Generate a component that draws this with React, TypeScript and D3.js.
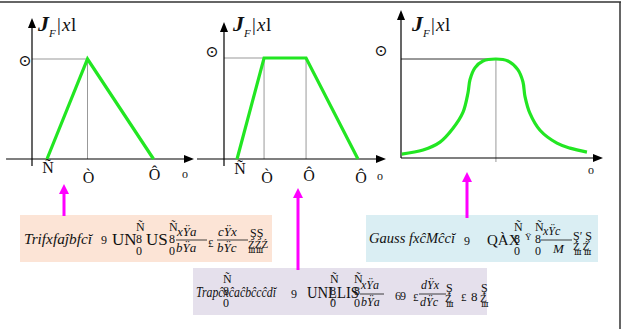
import React from "react";
import * as d3 from "d3";

// ---- data ----
const triParams = [1, 3.7, 8.1]; // a, b, c
const triLabels = ["Ñ", "Ò", "Ô"];
const trapParams = [0.87, 2.67, 5.47, 8.93]; // a, b, c, d
const trapLabels = ["Ñ", "Ò", "Ô", "Ô"];
const gaussX = [0.05, 1.47, 2.6, 3.47, 4.13, 4.47, 4.6, 4.93, 5.47, 6.33, 7.13, 7.8, 8.13, 8.27, 8.6, 9.27, 10.4, 11.27, 12.4];
const gaussMu = [0.04, 0.08, 0.16, 0.3, 0.46, 0.66, 0.79, 0.91, 0.98, 1.0, 0.98, 0.89, 0.77, 0.62, 0.45, 0.28, 0.15, 0.1, 0.06];
const gaussCenter = 6.33;

const GREEN = "#22e622";
const MAGENTA = "#ff00ff";
const FONT = "'Liberation Serif', 'DejaVu Serif', serif";

type Panel = {
  x: d3.ScaleLinear<number, number>;
  y: d3.ScaleLinear<number, number>;
  xMin: number;
  xMax: number;
  yTop: number;
  yBottomExt: number;
};

function Axes({ p }: { p: Panel }) {
  const x0 = p.x(0);
  const y0 = p.y(0);
  const xe = p.x(p.xMax);
  return (
    <g>
      <line x1={p.x(p.xMin)} y1={y0} x2={xe - 6} y2={y0} stroke="#000" strokeWidth={1.2} />
      <path d={`M${xe},${y0} L${xe - 10},${y0 - 4} L${xe - 10},${y0 + 4} Z`} fill="#000" />
      <line x1={x0} y1={p.yBottomExt} x2={x0} y2={p.yTop + 6} stroke="#000" strokeWidth={1.2} />
      <path d={`M${x0},${p.yTop} L${x0 - 4},${p.yTop + 10} L${x0 + 4},${p.yTop + 10} Z`} fill="#000" />
    </g>
  );
}

function JLabel({ x, y }: { x: number; y: number }) {
  return (
    <g fontFamily={FONT} fill="#111">
      <text x={x} y={y} fontSize={22} fontStyle="italic" fontWeight="bold">J</text>
      <text x={x + 11} y={y + 6} fontSize={11} fontStyle="italic">F</text>
      <text x={x + 19} y={y} fontSize={19}>|</text>
      <text x={x + 24} y={y} fontSize={19} fontStyle="italic">x</text>
      <text x={x + 33} y={y} fontSize={19}>l</text>
    </g>
  );
}

function Stack({ x, y, size = 12 }: { x: number; y: number; size?: number }) {
  return (
    <text x={x} y={y} fontSize={size}>
      <tspan x={x} dy={0}>Ñ</tspan>
      <tspan x={x} dy={size}>8</tspan>
      <tspan x={x} dy={size}>0</tspan>
    </text>
  );
}

export default function App() {
  const p1: Panel = {
    x: d3.scaleLinear().domain([0, 10.8]).range([32, 194]),
    y: d3.scaleLinear().domain([0, 1]).range([159, 59]),
    xMin: -1.73, xMax: 10.8, yTop: 18, yBottomExt: 166,
  };
  const p2: Panel = {
    x: d3.scaleLinear().domain([0, 10.8]).range([224, 386]),
    y: d3.scaleLinear().domain([0, 1]).range([159, 58]),
    xMin: -1.8, xMax: 10.8, yTop: 22, yBottomExt: 166,
  };
  const p3: Panel = {
    x: d3.scaleLinear().domain([0, 13.47]).range([401, 603]),
    y: d3.scaleLinear().domain([0, 1]).range([158, 59]),
    xMin: 0, xMax: 13.47, yTop: 10, yBottomExt: 158,
  };

  const line = d3.line<[number, number]>();
  const triPts: [number, number][] = [
    [p1.x(triParams[0]), p1.y(0)],
    [p1.x(triParams[1]), p1.y(1)],
    [p1.x(triParams[2]), p1.y(0)],
  ];
  const trapPts: [number, number][] = [
    [p2.x(trapParams[0]), p2.y(0)],
    [p2.x(trapParams[1]), p2.y(1)],
    [p2.x(trapParams[2]), p2.y(1)],
    [p2.x(trapParams[3]), p2.y(0)],
  ];
  const gaussLine = d3
    .line<number>()
    .x((_, i) => p3.x(gaussX[i]))
    .y((d) => p3.y(d))
    .curve(d3.curveCatmullRom.alpha(0.5));

  const triLabelY = [167, 177, 174];
  const trapLabelY = [168, 177, 175, 177];

  return (
    <svg width={626} height={329} style={{ position: "absolute", left: 0, top: 0 }}>
      <rect x={0} y={0} width={626} height={329} fill="#fff" />
      <line x1={0} y1={2} x2={621} y2={2} stroke="#333" strokeWidth={1.5} />
      <line x1={620} y1={2} x2={620} y2={329} stroke="#333" strokeWidth={1.5} />

      {/* Panel 1 */}
      <line x1={p1.x(0)} y1={p1.y(1)} x2={p1.x(triParams[1])} y2={p1.y(1)} stroke="#999" strokeWidth={1} />
      <line x1={p1.x(triParams[1])} y1={p1.y(1)} x2={p1.x(triParams[1])} y2={p1.y(0)} stroke="#999" strokeWidth={1} />
      <Axes p={p1} />
      <path d={line(triPts) || ""} fill="none" stroke={GREEN} strokeWidth={3.2} />
      <JLabel x={38} y={31} />
      <text x={25} y={66} fontFamily={FONT} fontSize={16} textAnchor="middle" fill="#111">⊙</text>
      {triParams.map((v, i) => (
        <text key={i} x={p1.x(v) + 1} y={triLabelY[i] + 6} fontFamily={FONT} fontSize={16} textAnchor="middle" fill="#111">{triLabels[i]}</text>
      ))}
      <text x={185} y={178} fontFamily={FONT} fontSize={12} textAnchor="middle" fill="#111">o</text>

      {/* Panel 2 */}
      <line x1={p2.x(0)} y1={p2.y(1)} x2={p2.x(trapParams[1])} y2={p2.y(1)} stroke="#999" strokeWidth={1} />
      {[trapParams[1], trapParams[2]].map((v, i) => (
        <line key={i} x1={p2.x(v)} y1={p2.y(1)} x2={p2.x(v)} y2={p2.y(0)} stroke="#999" strokeWidth={1} />
      ))}
      <Axes p={p2} />
      <path d={line(trapPts) || ""} fill="none" stroke={GREEN} strokeWidth={3.2} />
      <JLabel x={233} y={31} />
      <text x={212} y={57} fontFamily={FONT} fontSize={16} textAnchor="middle" fill="#111">⊙</text>
      {trapParams.map((v, i) => (
        <text key={i} x={p2.x(v) + 3} y={trapLabelY[i] + 6} fontFamily={FONT} fontSize={16} textAnchor="middle" fill="#111">{trapLabels[i]}</text>
      ))}
      <text x={380} y={180} fontFamily={FONT} fontSize={12} textAnchor="middle" fill="#111">o</text>

      {/* Panel 3 */}
      <line x1={p3.x(0)} y1={p3.y(1)} x2={p3.x(gaussCenter)} y2={p3.y(1)} stroke="#333" strokeWidth={1} />
      <line x1={p3.x(gaussCenter)} y1={p3.y(1)} x2={p3.x(gaussCenter)} y2={p3.y(0) + 4} stroke="#999" strokeWidth={1} />
      <Axes p={p3} />
      <path d={gaussLine(gaussMu) || ""} fill="none" stroke={GREEN} strokeWidth={3.2} />
      <JLabel x={412} y={31} />
      <text x={381} y={56} fontFamily={FONT} fontSize={16} textAnchor="middle" fill="#111">⊙</text>
      <text x={591} y={174} fontFamily={FONT} fontSize={12} textAnchor="middle" fill="#111">o</text>

      {/* boxes */}
      <rect x={20} y={215} width={252} height={47} fill="#fce4d6" />
      <rect x={366} y={215} width={232} height={47} fill="#daeef3" />
      <rect x={193} y={268} width={294} height={47} fill="#e5e0ec" />

      {[
        { x: 64, y1: 216, y2: 184 },
        { x: 298, y1: 270, y2: 188 },
        { x: 467, y1: 218, y2: 172 },
      ].map((a, i) => (
        <g key={i}>
          <line x1={a.x} y1={a.y1} x2={a.x} y2={a.y2 + 8} stroke={MAGENTA} strokeWidth={3} />
          <path d={`M${a.x},${a.y2} L${a.x - 5},${a.y2 + 10} L${a.x + 5},${a.y2 + 10} Z`} fill={MAGENTA} />
        </g>
      ))}

      {/* box 1 text */}
      <g fontFamily={FONT} fill="#111">
        <text x={24} y={244} fontSize={15} fontStyle="italic" textLength={68} lengthAdjust="spacingAndGlyphs">Trifxfaĵbfcĭ</text>
        <text x={101} y={244} fontSize={12}>9</text>
        <text x={112} y={245} fontSize={17}>UN</text>
        <Stack x={136} y={231} />
        <text x={146} y={245} fontSize={17}>US</text>
        <Stack x={169} y={231} />
        <text x={177} y={236} fontSize={13} fontStyle="italic">xŸa</text>
        <line x1={176} y1={240} x2={207} y2={240} stroke="#111" strokeWidth={0.8} />
        <text x={176} y={252} fontSize={13} fontStyle="italic">bŸa</text>
        <text x={208} y={247} fontSize={11}>£</text>
        <text x={218} y={236} fontSize={13} fontStyle="italic">cŸx</text>
        <line x1={217} y1={240} x2={248} y2={240} stroke="#111" strokeWidth={0.8} />
        <text x={217} y={252} fontSize={13} fontStyle="italic">bŸc</text>
        <text x={250} y={237} fontSize={12}>ŞŞ</text>
        <text x={248} y={248} fontSize={11}>ŹŹŹ</text>
        <text x={248} y={253} fontSize={8}>ⅢⅢ</text>
      </g>

      {/* box 3 text */}
      <g fontFamily={FONT} fill="#111">
        <text x={369} y={243} fontSize={15} fontStyle="italic" textLength={86} lengthAdjust="spacingAndGlyphs">Gauss fxĉMĉcĭ</text>
        <text x={464} y={245} fontSize={12}>9</text>
        <text x={487} y={245} fontSize={15}>QÀX</text>
        <Stack x={514} y={231} />
        <text x={525} y={240} fontSize={9}>Ÿ</text>
        <Stack x={535} y={231} />
        <text x={543} y={235} fontSize={12} fontStyle="italic">xŸc</text>
        <line x1={541} y1={240} x2={572} y2={240} stroke="#111" strokeWidth={0.8} />
        <text x={553} y={253} fontSize={13} fontStyle="italic">M</text>
        <text x={573} y={240} fontSize={12}>Ş′ Ş</text>
        <text x={573} y={250} fontSize={11}>Ź Ź</text>
        <text x={574} y={255} fontSize={8}>Ⅲ Ⅲ</text>
      </g>

      {/* box 2 text */}
      <g fontFamily={FONT} fill="#111">
        <text x={196} y={297} fontSize={14} fontStyle="italic" textLength={80} lengthAdjust="spacingAndGlyphs">Trapĉxĉaĉbĉcĉdĭ</text>
        <Stack x={223} y={283} />
        <text x={291} y={298} fontSize={12}>9</text>
        <text x={307} y={298} fontSize={17} textLength={52} lengthAdjust="spacingAndGlyphs">UNĻLIS</text>
        <Stack x={330} y={283} />
        <Stack x={354} y={283} />
        <text x={361} y={289} fontSize={12} fontStyle="italic">xŸa</text>
        <line x1={360} y1={294} x2={384} y2={294} stroke="#111" strokeWidth={0.8} />
        <text x={361} y={306} fontSize={12} fontStyle="italic">bŸa</text>
        <text x={395} y={300} fontSize={12}>6</text>
        <text x={400} y={300} fontSize={12}>9</text>
        <text x={413} y={301} fontSize={11}>£</text>
        <text x={421} y={289} fontSize={12} fontStyle="italic">dŸx</text>
        <line x1={419} y1={294} x2={446} y2={294} stroke="#111" strokeWidth={0.8} />
        <text x={420} y={306} fontSize={12} fontStyle="italic">dŸc</text>
        <text x={446} y={292} fontSize={12}>Ş</text>
        <text x={445} y={302} fontSize={11}>Ź</text>
        <text x={446} y={307} fontSize={8}>Ⅲ</text>
        <text x={461} y={301} fontSize={11}>£</text>
        <text x={471} y={301} fontSize={13}>8</text>
        <text x={481} y={292} fontSize={12}>Ş</text>
        <text x={480} y={302} fontSize={11}>Ź</text>
        <text x={481} y={307} fontSize={8}>Ⅲ</text>
      </g>
    </svg>
  );
}
